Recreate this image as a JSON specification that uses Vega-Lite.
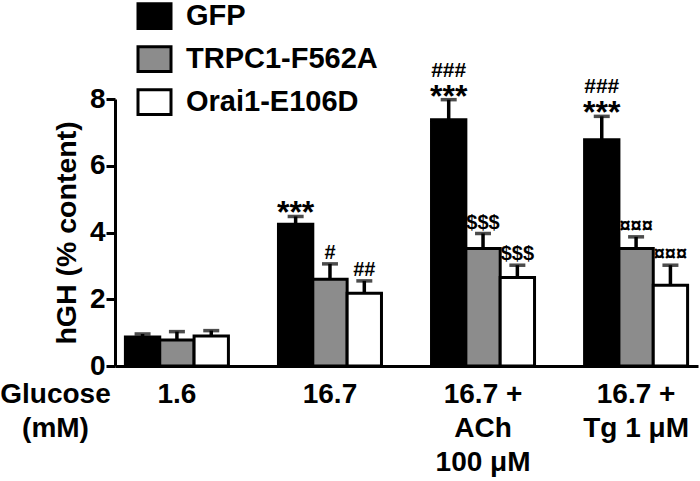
{
  "$schema": "https://vega.github.io/schema/vega-lite/v6.json",
  "width": 583,
  "height": 267,
  "autosize": "none",
  "padding": {"left": 115, "top": 99, "right": 2, "bottom": 115},
  "background": "white",
  "data": {
    "values": [
      {"cond": "1.6", "group": "GFP", "value": 0.87, "upper": 0.96, "ann": "", "ann2": ""},
      {"cond": "1.6", "group": "TRPC1-F562A", "value": 0.78, "upper": 1.03, "ann": "", "ann2": ""},
      {"cond": "1.6", "group": "Orai1-E106D", "value": 0.9, "upper": 1.06, "ann": "", "ann2": ""},
      {"cond": "16.7", "group": "GFP", "value": 4.25, "upper": 4.48, "ann": "***", "ann2": ""},
      {"cond": "16.7", "group": "TRPC1-F562A", "value": 2.6, "upper": 3.06, "ann": "#", "ann2": ""},
      {"cond": "16.7", "group": "Orai1-E106D", "value": 2.18, "upper": 2.55, "ann": "##", "ann2": ""},
      {"cond": "16.7 +|ACh|100 μM", "group": "GFP", "value": 7.38, "upper": 7.98, "ann": "***", "ann2": "###"},
      {"cond": "16.7 +|ACh|100 μM", "group": "TRPC1-F562A", "value": 3.52, "upper": 3.97, "ann": "$$$", "ann2": ""},
      {"cond": "16.7 +|ACh|100 μM", "group": "Orai1-E106D", "value": 2.65, "upper": 3.02, "ann": "$$$", "ann2": ""},
      {"cond": "16.7 +|Tg 1 μM", "group": "GFP", "value": 6.78, "upper": 7.48, "ann": "***", "ann2": "###"},
      {"cond": "16.7 +|Tg 1 μM", "group": "TRPC1-F562A", "value": 3.52, "upper": 3.87, "ann": "¤¤¤", "ann2": ""},
      {"cond": "16.7 +|Tg 1 μM", "group": "Orai1-E106D", "value": 2.42, "upper": 3.02, "ann": "¤¤¤", "ann2": ""}
    ]
  },
  "encoding": {
    "x": {
      "field": "cond",
      "type": "nominal",
      "sort": ["1.6", "16.7", "16.7 +|ACh|100 μM", "16.7 +|Tg 1 μM"],
      "scale": {"paddingInner": 0.327, "paddingOuter": 0.068},
      "axis": {
        "labelAngle": 0,
        "labelExpr": "split(datum.label, '|')",
        "labelFont": "Liberation Sans",
        "labelFontWeight": "bold",
        "labelFontSize": 28,
        "labelColor": "black",
        "labelLineHeight": 34,
        "labelBaseline": "top",
        "labelPadding": 14,
        "labelLimit": 0,
        "ticks": false,
        "domainColor": "black",
        "domainWidth": 3,
        "title": ["Glucose", "(mM)"],
        "titleFont": "Liberation Sans",
        "titleFontWeight": "bold",
        "titleFontSize": 28,
        "titleColor": "black",
        "titleLineHeight": 34,
        "titleAlign": "center",
        "titleBaseline": "top",
        "titleX": -60,
        "titleY": 14
      }
    },
    "xOffset": {
      "field": "group",
      "type": "nominal",
      "sort": ["GFP", "TRPC1-F562A", "Orai1-E106D"],
      "scale": {"paddingInner": 0, "paddingOuter": 0}
    }
  },
  "layer": [
    {
      "mark": {"type": "bar", "stroke": "black", "strokeWidth": 3, "clip": false},
      "encoding": {
        "y": {
          "field": "value",
          "type": "quantitative",
          "scale": {"domain": [0, 8], "nice": false},
          "axis": {
            "values": [0, 2, 4, 6, 8],
            "grid": false,
            "domainColor": "black",
            "domainWidth": 3,
            "tickColor": "black",
            "tickWidth": 3,
            "tickSize": 9,
            "labelFont": "Liberation Sans",
            "labelFontWeight": "bold",
            "labelFontSize": 28,
            "labelColor": "black",
            "labelPadding": 1,
            "title": "hGH (% content)",
            "titleFont": "Liberation Sans",
            "titleFontWeight": "bold",
            "titleFontSize": 28.5,
            "titleColor": "black",
            "titlePadding": 8
          }
        },
        "fill": {
          "field": "group",
          "type": "nominal",
          "sort": ["GFP", "TRPC1-F562A", "Orai1-E106D"],
          "scale": {"domain": ["GFP", "TRPC1-F562A", "Orai1-E106D"], "range": ["#000000", "#8c8c8c", "#ffffff"]},
          "legend": {
            "title": null,
            "orient": "none",
            "legendX": 21.5,
            "legendY": -101,
            "padding": 0,
            "symbolType": "M-1,-0.75H1V0.75H-1Z",
            "symbolSize": 1089,
            "symbolStrokeColor": "black",
            "symbolStrokeWidth": 3,
            "symbolOpacity": 1,
            "labelFont": "Liberation Sans",
            "labelFontWeight": "bold",
            "labelFontSize": 29,
            "labelColor": "black",
            "labelOffset": 13.5,
            "labelLimit": 0,
            "rowPadding": 5
          }
        }
      }
    },
    {
      "mark": {"type": "rule", "color": "black", "strokeWidth": 3.5},
      "encoding": {
        "y": {"field": "value", "type": "quantitative"},
        "y2": {"field": "upper"}
      }
    },
    {
      "mark": {"type": "tick", "color": "black", "size": 16, "thickness": 3.5, "orient": "horizontal"},
      "encoding": {
        "y": {"field": "upper", "type": "quantitative"}
      }
    },
    {
      "transform": [{"filter": "datum.ann == '***'"}],
      "mark": {"type": "text", "font": "Liberation Sans", "fontWeight": "bold", "fontSize": 32, "baseline": "alphabetic", "dy": 7, "color": "black"},
      "encoding": {
        "y": {"field": "upper", "type": "quantitative"},
        "text": {"field": "ann"}
      }
    },
    {
      "transform": [{"filter": "datum.ann != '***' && datum.ann != ''"}],
      "mark": {"type": "text", "font": "Liberation Sans", "fontWeight": "bold", "fontSize": 20, "baseline": "alphabetic", "dy": -5, "color": "black"},
      "encoding": {
        "y": {"field": "upper", "type": "quantitative"},
        "text": {"field": "ann"}
      }
    },
    {
      "transform": [{"filter": "datum.ann2 != ''"}],
      "mark": {"type": "text", "font": "Liberation Sans", "fontWeight": "bold", "fontSize": 21, "baseline": "alphabetic", "dy": -23, "color": "black"},
      "encoding": {
        "y": {"field": "upper", "type": "quantitative"},
        "text": {"field": "ann2"}
      }
    }
  ],
  "config": {
    "view": {"stroke": null}
  }
}
